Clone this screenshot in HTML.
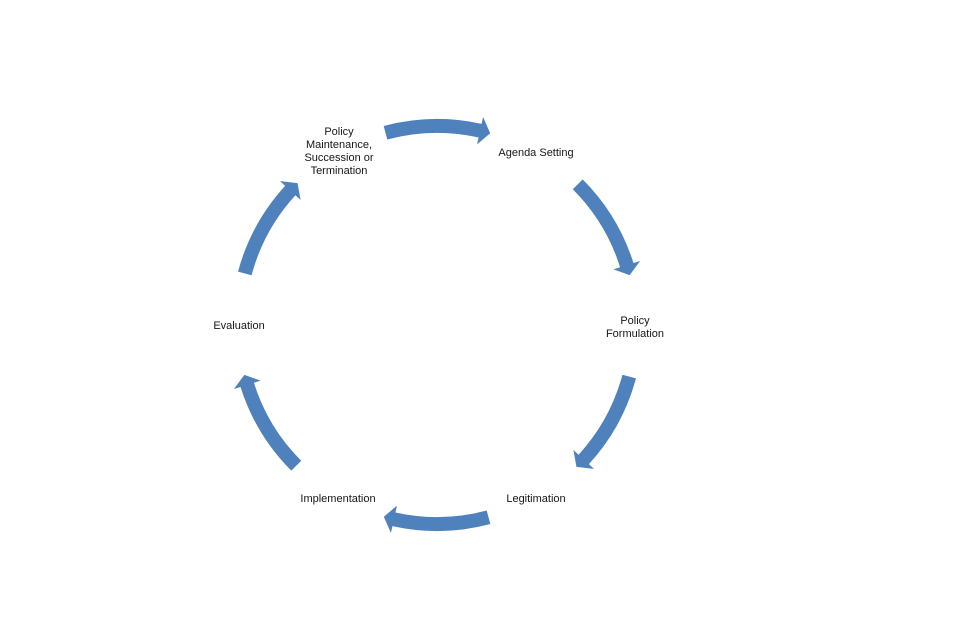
<!DOCTYPE html>
<html>
<head>
<meta charset="utf-8">
<style>
  html, body { margin: 0; padding: 0; background: #ffffff; }
  body { width: 960px; height: 640px; overflow: hidden; }
  svg { display: block; }
  text { font-family: "Liberation Sans", sans-serif; font-size: 11px; fill: #161616; text-anchor: middle; }
</style>
</head>
<body>
<svg width="960" height="640" viewBox="0 0 960 640" xmlns="http://www.w3.org/2000/svg">
  <rect x="0" y="0" width="960" height="640" fill="#ffffff"/>
  <defs>
    <path id="arr" d="M -53.32 -198.98 A 206 206 0 0 1 44.58 -201.12 L 46.10 -207.95 L 53.18 -191.76 L 40.04 -180.61 L 41.55 -187.45 A 192 192 0 0 0 -49.69 -185.45 Z" fill="#4F81BD"/>
  </defs>
  <g transform="translate(437,325)">
    <use href="#arr" transform="rotate(0)"/>
    <use href="#arr" transform="rotate(60)"/>
    <use href="#arr" transform="rotate(120)"/>
    <use href="#arr" transform="rotate(180)"/>
    <use href="#arr" transform="rotate(240)"/>
    <use href="#arr" transform="rotate(300)"/>
  </g>

  <text x="339" y="135">Policy</text>
  <text x="339" y="148">Maintenance,</text>
  <text x="339" y="161">Succession or</text>
  <text x="339" y="174">Termination</text>

  <text x="536" y="156">Agenda Setting</text>

  <text x="635" y="324">Policy</text>
  <text x="635" y="337">Formulation</text>

  <text x="239" y="329">Evaluation</text>

  <text x="338" y="502">Implementation</text>
  <text x="536" y="502">Legitimation</text>
</svg>
</body>
</html>
